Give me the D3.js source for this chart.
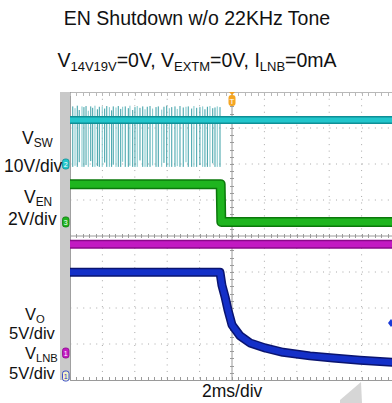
<!DOCTYPE html>
<html><head><meta charset="utf-8">
<script src="https://cdn.jsdelivr.net/npm/d3@7/dist/d3.min.js"></script>
<style>body{margin:0;background:#fff}svg{display:block;font-family:"Liberation Sans",Arial,sans-serif}</style>
</head><body><svg id="c" width="392" height="403"></svg>
<script>
// ---- data ----
const timeDomain = [-10, 10];          // ms, 2ms/div, trigger at 0
const divDomain = [-4, 4];
const swSpikeTimes = [-9.83,-9.69,-9.55,-9.43,-9.26,-9.14,-9.01,-8.87,-8.72,-8.60,-8.46,-8.31,-8.19,-8.01,-7.86,-7.73,-7.57,-7.43,-7.33,-7.16,-7.02,-6.87,-6.75,-6.59,-6.40,-6.30,-6.13,-5.99,-5.85,-5.68,-5.51,-5.37,-5.23,-5.06,-4.90,-4.69,-4.55,-4.34,-4.20,-4.03,-3.87,-3.72,-3.52,-3.38,-3.21,-3.01,-2.84,-2.70,-2.49,-2.35,-2.18,-1.98,-1.81,-1.67,-1.52,-1.36,-1.19,-1.05,-0.91,-0.74];
const swSpikeLow = [-0.8,-0.5,-0.8,0.5,-0.8,-0.8,-0.3,-0.8,0.8,-0.8,-0.8,-0.6,-0.8,-0.8,0.4,-0.8,-0.8,-0.8,-0.2,-0.8,-0.8,-0.8,0.6,-0.8,-0.8,-0.5,-0.8,-0.8,-0.8,1.0,-0.8,-0.8,-0.8,-0.8,-0.4,-0.8,-0.8,-0.8,0.3,-0.8,-0.8,-0.8,-0.8,-0.6,-0.8,-0.8,0.5,-0.8,-0.8,-0.8,-0.8,-0.3,-0.8,-0.8,-0.8,-0.8,0.2,-0.8,-0.8,-0.8];
const swSpikeHigh = [16.0,15.5,16.2,15.0,16.0,15.8,16.1,14.8,16.0,15.6,16.2,15.2,15.9,16.0,15.4,16.1,15.8,14.9,16.0,15.7,16.1,15.3,15.9,16.0,15.5,16.2,15.0,15.8,16.1,15.6,16.0,15.2,15.9,16.1,15.4,15.8,16.0,15.1,15.9,16.2,15.5,15.8,16.0,15.3,16.1,15.7,15.9,16.0,15.4,16.1,15.6,15.8,16.0,15.2,15.9,16.1,15.5,15.7,16.0,15.8];
const swTimes = [-10, 10];
const swValues = [12.2, 12.2];          // V (10V/div)
const enTimes = [-10, -0.70, -0.66, 10];
const enValues = [2.1, 2.1, 0, 0];      // V (2V/div)
const lnbTimes = [-10, 10];
const lnbValues = [15.1, 15.1];         // V (5V/div)
const voTimes = [-10, -0.74, -0.62, -0.43, -0.25, 0, 0.49, 1.11, 2.04, 3.15, 4.81, 6.23, 7.90, 10];
const voValues = [14.4, 14.4, 12.6, 11.0, 9.2, 7.1, 5.6, 4.6, 3.9, 3.3, 2.8, 2.5, 2.2, 1.9]; // V (5V/div)
const channels = [
  {name:"sw", label:"2", voltsPerDiv:10, groundDiv:2.0,  color:"#22c6cc", edge:"#0f8f96"},
  {name:"en", label:"3", voltsPerDiv:2,  groundDiv:0.39, color:"#1fb51f", edge:"#0b780b"},
  {name:"lnb",label:"1", voltsPerDiv:5,  groundDiv:-3.25,color:"#c21ac2", edge:"#8a0a8a"},
  {name:"vo", label:"1", voltsPerDiv:5,  groundDiv:-3.89,color:"#1430c8", edge:"#0a1470"}
];
const titleText = "EN Shutdown w/o 22KHz Tone";
const timeLabel = "2ms/div";

// ---- layout ----
const svg = d3.select("#c");
const x = d3.scaleLinear().domain(timeDomain).range([70, 394]);
const yd = d3.scaleLinear().domain(divDomain).range([380, 92]);
const ch = Object.fromEntries(channels.map(c => [c.name, c]));
const yv = (c, v) => yd(c.groundDiv + v / c.voltsPerDiv);

// strip
svg.append("rect").attr("x",60).attr("y",92).attr("width",10).attr("height",288).attr("fill","#c9c9c9");

// grid
const g = svg.append("g");
for (let i = -4; i <= 5; i++) {
  if (i === 0) continue;
  g.append("line").attr("x1", x(i*2)).attr("x2", x(i*2)).attr("y1", 92).attr("y2", 380)
   .attr("stroke","#a8a8a8").attr("stroke-width",1).attr("stroke-dasharray","1,5.48").attr("stroke-dashoffset",-0.3);
}
for (let j = -3; j <= 3; j++) {
  if (j === 0) continue;
  g.append("line").attr("x1", 70).attr("x2", 394).attr("y1", yd(j)).attr("y2", yd(j))
   .attr("stroke","#a8a8a8").attr("stroke-width",1).attr("stroke-dasharray","1,5.48").attr("stroke-dashoffset",-0.3);
}
// center lines & borders with ticks
const axisCol = "#9a9a9a";
g.append("line").attr("x1",x(0)).attr("x2",x(0)).attr("y1",92).attr("y2",380).attr("stroke",axisCol);
g.append("line").attr("x1",70).attr("x2",394).attr("y1",yd(0)).attr("y2",yd(0)).attr("stroke",axisCol);
g.append("line").attr("x1",70).attr("x2",394).attr("y1",92.5).attr("y2",92.5).attr("stroke","#b8b8b8");
g.append("line").attr("x1",70).attr("x2",394).attr("y1",380.5).attr("y2",380.5).attr("stroke",axisCol);
g.append("line").attr("x1",70.5).attr("x2",70.5).attr("y1",92).attr("y2",381).attr("stroke","#a0a0a0");
d3.range(-10, 10.01, 0.4).forEach(t => {
  const xx = Math.round(x(t)) + 0.5;
  g.append("line").attr("x1",xx).attr("x2",xx).attr("y1",yd(0)-2).attr("y2",yd(0)+2).attr("stroke",axisCol);
  g.append("line").attr("x1",xx).attr("x2",xx).attr("y1",377).attr("y2",380).attr("stroke",axisCol);
  g.append("line").attr("x1",xx).attr("x2",xx).attr("y1",93).attr("y2",96).attr("stroke","#b8b8b8");
});
d3.range(-4, 4.01, 0.2).forEach(d => {
  const yy = Math.round(yd(d)) + 0.5;
  g.append("line").attr("x1",x(0)-2).attr("x2",x(0)+2).attr("y1",yy).attr("y2",yy).attr("stroke",axisCol);
});

// traces
const line = (c, ts, vs) => d3.line().x((d,i)=>x(ts[i])).y((d,i)=>yv(c, vs[i]))(vs);
function band(c, ts, vs, w) {
  const p = line(c, ts, vs);
  svg.append("path").attr("d",p).attr("fill","none").attr("stroke",c.edge).attr("stroke-width",w).attr("stroke-linejoin","round");
  svg.append("path").attr("d",p).attr("fill","none").attr("stroke",c.color).attr("stroke-width",w-3).attr("stroke-linejoin","round");
}
// VSW spikes
const sw = ch.sw;
swSpikeTimes.forEach((t,i) => {
  svg.append("line").attr("x1",x(t)).attr("x2",x(t))
    .attr("y1",yv(sw, swSpikeHigh[i])).attr("y2",yv(sw, swSpikeLow[i]))
    .attr("stroke", i%3===1 ? "#7cc6ca" : "#3a9fa6").attr("stroke-width",1);
});
band(sw, swTimes, swValues, 8);
// VEN
const en = ch.en;
band(en, enTimes, enValues, 10);
// VLNB
band(ch.lnb, lnbTimes, lnbValues, 9);
// VO
band(ch.vo, voTimes, voValues, 9);

// channel markers on left strip
channels.forEach(c => {
  const yy = yd(c.groundDiv);
  svg.append("rect").attr("x",62.5).attr("y",yy-5).attr("width",6.5).attr("height",10).attr("rx",2.5)
    .attr("fill", c.name==="vo" ? "#f4f0c8" : c.color).attr("stroke", c.name==="vo" ? c.color : c.edge).attr("stroke-width",0.8);
  svg.append("text").attr("x",65.8).attr("y",yy+3).attr("text-anchor","middle").attr("font-size",7)
    .attr("fill", c.name==="vo" ? c.color : "#fff").text(c.label);
});
// trigger marker
svg.append("path").attr("d",`M${x(0)-3},92 L${x(0)+3},92 L${x(0)},95 Z`).attr("fill","#f0a020");
svg.append("rect").attr("x",x(0)-3.5).attr("y",95).attr("width",7).attr("height",11).attr("rx",3).attr("fill","#f5a623");
svg.append("text").attr("x",x(0)).attr("y",104).attr("text-anchor","middle").attr("font-size",8).attr("fill","#fff").text("T");
// offset marker on right
svg.append("path").attr("d","M391,319 L394,323 L391,327 L388,323 Z").attr("fill","#1a3ad8");

// watermark
svg.append("path").attr("d","M361,382 L362,403 L340,403 L340,400 Z").attr("fill","#d6d6d6");

// texts
svg.append("text").attr("x",197).attr("y",25).attr("text-anchor","middle").attr("font-size",19.5).attr("fill","#111").text(titleText);
const st = svg.append("text").attr("x",197).attr("y",67).attr("text-anchor","middle").attr("font-size",19.5).attr("fill","#111");
const parts = [["V",0],["14V19V",1],["=0V, V",0],["EXTM",1],["=0V, I",0],["LNB",1],["=0mA",0]];
let prevSub = 0;
parts.forEach(([s,sub]) => {
  const t = st.append("tspan").text(s);
  if (sub) t.attr("font-size",13);
  const dy = sub ? (prevSub ? 0 : 4) : (prevSub ? -4 : 0);
  if (dy) t.attr("dy", dy);
  prevSub = sub;
});
function sublabel(xx, yy, main, sub, fs) {
  const t = svg.append("text").attr("x",xx).attr("y",yy).attr("font-size",fs).attr("fill","#111");
  t.append("tspan").text(main);
  t.append("tspan").attr("font-size",fs*0.68).attr("dy",2.5).text(sub);
}
function label(xx, yy, s, fs) {
  svg.append("text").attr("x",xx).attr("y",yy).attr("font-size",fs).attr("fill","#111").text(s);
}
sublabel(22,144,"V","SW",17.5); label(4,172,"10V/div",17.5);
sublabel(24,203,"V","EN",17.5); label(8,225,"2V/div",17.5);
sublabel(25,320,"V","O",16.5);  label(9,339,"5V/div",16.5);
sublabel(25,359,"V","LNB",16.5); label(9,379,"5V/div",16.5);
svg.append("text").attr("x",202).attr("y",397).attr("font-size",17.5).attr("fill","#111").text(timeLabel);
</script></body></html>
